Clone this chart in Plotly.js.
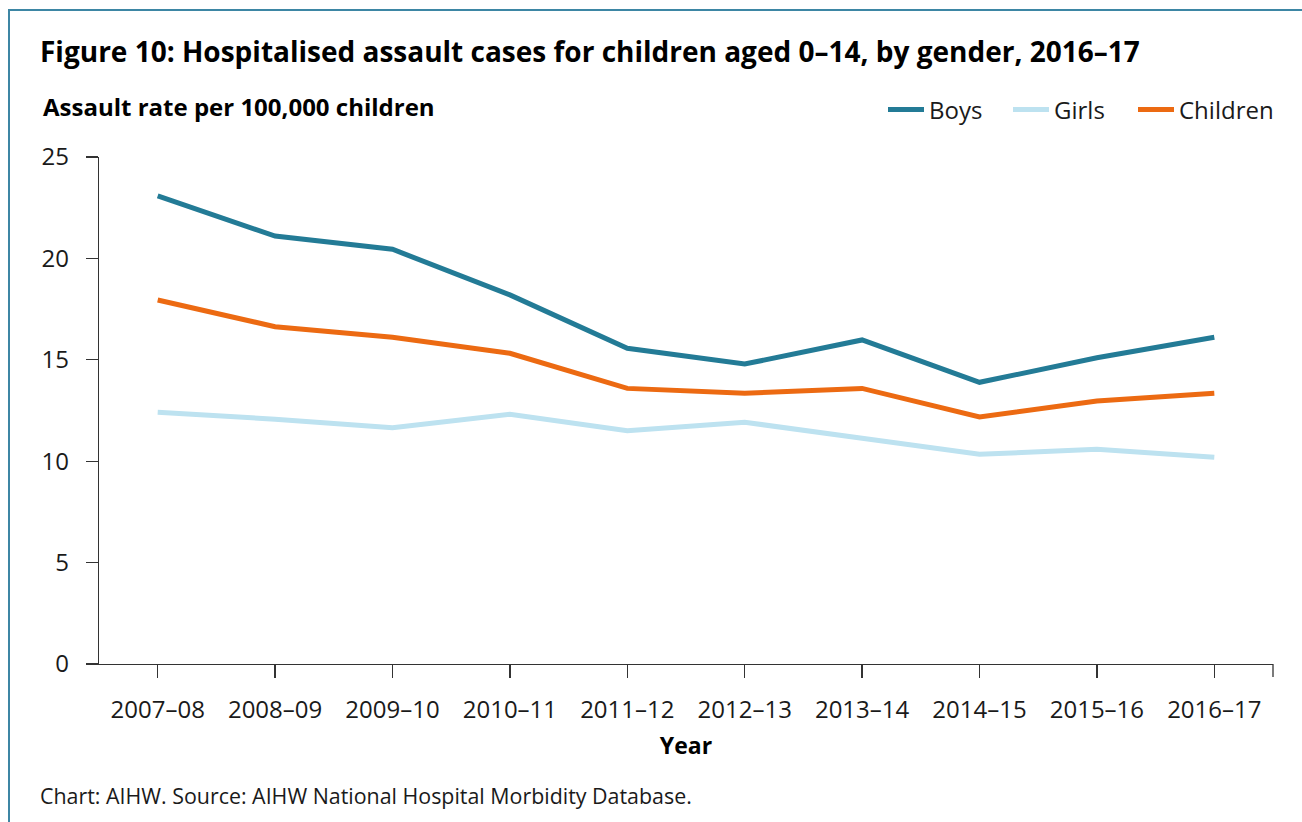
<!DOCTYPE html>
<html>
<head>
<meta charset="utf-8">
<script src="https://cdn.plot.ly/plotly-3.0.1.min.js"></script>
<style>
  html, body { margin: 0; padding: 0; background: #fff; }
  #chart { width: 1302px; height: 822px; position: absolute; left: 0; top: 0; }
  #frame { position: absolute; left: 8px; top: 9px; width: 1300px; height: 820px;
           border-left: 2px solid #3d86a4; border-top: 2px solid #3d86a4; pointer-events: none; }
</style>
</head>
<body>
<div id="chart"></div>
<div id="frame"></div>
<script>
const years = ["2007–08","2008–09","2009–10","2010–11","2011–12","2012–13","2013–14","2014–15","2015–16","2016–17"];
const boys = [23.08, 21.10, 20.45, 18.20, 15.57, 14.79, 15.98, 13.89, 15.10, 16.11];
const girls = [12.41, 12.07, 11.65, 12.31, 11.50, 11.92, 11.13, 10.34, 10.59, 10.19];
const children = [17.95, 16.63, 16.11, 15.32, 13.59, 13.35, 13.59, 12.18, 12.97, 13.35];

const seriesNames = ["Boys", "Girls", "Children"];
const seriesColors = ["#237b96", "#bde2f0", "#ec6a12"];
const seriesData = [boys, girls, children];
const legendIds = ["legend", "legend2", "legend3"];

const FONT = "'Open Sans', 'Noto Sans', sans-serif";
const TXT = "#1a1a1a";

const traces = seriesData.map((d, i) => ({
  type: "scatter",
  mode: "lines",
  x: years,
  y: d,
  name: seriesNames[i],
  legend: legendIds[i],
  line: { color: seriesColors[i], width: 5 },
  hoverinfo: "x+y+name"
}));

function legendAt(leftPx) {
  return {
    orientation: "h",
    x: (leftPx - 99) / 1174, xanchor: "left", xref: "paper",
    y: 1 + 47 / 507, yanchor: "middle", yref: "paper",
    font: { family: FONT, size: 24, color: TXT },
    bgcolor: "rgba(0,0,0,0)",
    itemwidth: 36
  };
}

const layout = {
  width: 1302,
  height: 822,
  paper_bgcolor: "#fff",
  plot_bgcolor: "#fff",
  margin: { l: 99, r: 29, t: 157, b: 158 },
  font: { family: FONT, color: TXT, size: 24 },
  title: {
    text: "<b>Figure 10: Hospitalised assault cases for children aged 0–14, by gender, 2016–17</b>",
    font: { family: FONT, size: 28, color: "#000" },
    xref: "container", x: 40 / 1302, xanchor: "left",
    yref: "container", y: 1 - 52 / 822, yanchor: "middle"
  },
  showlegend: true,
  legend: legendAt(883),
  legend2: legendAt(1008),
  legend3: legendAt(1133),
  xaxis: {
    type: "category",
    range: [-0.5, 9.5],
    showgrid: false,
    zeroline: false,
    showline: true, linecolor: "#333", linewidth: 1.3,
    ticks: "outside", ticklen: 13, tickwidth: 1.3, tickcolor: "#333",
    ticklabelstandoff: 11,
    tickfont: { family: FONT, size: 24, color: TXT },
    title: { text: "<b>Year</b>", font: { family: FONT, size: 23, color: "#000" }, standoff: 13 },
    fixedrange: true
  },
  yaxis: {
    range: [0, 25],
    tickmode: "linear", tick0: 0, dtick: 5,
    showgrid: false,
    zeroline: false,
    showline: true, linecolor: "#333", linewidth: 1.3,
    ticks: "outside", ticklen: 12, tickwidth: 1.3, tickcolor: "#333",
    ticklabelstandoff: 12,
    tickfont: { family: FONT, size: 24, color: TXT },
    fixedrange: true
  },
  shapes: [
    { type: "line", xref: "paper", yref: "paper", x0: 1, x1: 1, y0: 0, y1: -13 / 507,
      line: { color: "#333", width: 1.3 } }
  ],
  annotations: [
    { text: "<b>Assault rate per 100,000 children</b>", xref: "paper", yref: "paper",
      x: (41 - 99) / 1174, xanchor: "left", y: 1 + 50 / 507, yanchor: "middle",
      showarrow: false, font: { family: FONT, size: 24, color: "#000" } },
    { text: "Chart: AIHW. Source: AIHW National Hospital Morbidity Database.", xref: "paper", yref: "paper",
      x: (38 - 99) / 1174, xanchor: "left", y: (664 - 795) / 507, yanchor: "middle",
      showarrow: false, font: { family: FONT, size: 21.4, color: TXT } }
  ]
};

Plotly.newPlot("chart", traces, layout, { displayModeBar: false, staticPlot: true });
</script>
</body>
</html>
